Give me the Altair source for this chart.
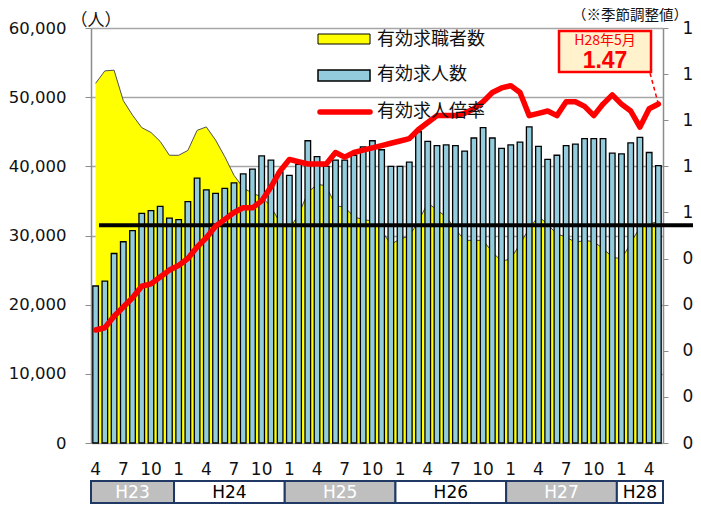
import altair as alt
import pandas as pd

# ---- data ----
MONTHS = [4, 5, 6, 7, 8, 9, 10, 11, 12,
          1, 2, 3, 4, 5, 6, 7, 8, 9, 10, 11, 12,
          1, 2, 3, 4, 5, 6, 7, 8, 9, 10, 11, 12,
          1, 2, 3, 4, 5, 6, 7, 8, 9, 10, 11, 12,
          1, 2, 3, 4, 5, 6, 7, 8, 9, 10, 11, 12,
          1, 2, 3, 4, 5]

SEEKERS = [52000, 53800, 53900, 49500, 47400, 45600, 44900, 43600, 41600,
           41600, 42300, 45200, 45700, 43800, 41400, 38700, 36900, 36100, 35600, 34200, 31800,
           31000, 33000, 36200, 37400, 37200, 34300, 34100, 32700, 32300, 32100, 30700, 28700,
           29500, 29900, 32100, 34700, 33700, 32700, 30900, 29300, 29300, 29300, 27600, 26300,
           26600, 28800, 31000, 32800, 31600, 30200, 29800, 29000, 29300, 29100, 28100, 26900,
           26600, 28900, 31200, 31700, 32000]

OPENINGS = [22700, 23400, 27400, 29100, 30700, 33200, 33600, 34200, 32500,
            32300, 34900, 38300, 36600, 36100, 36800, 37600, 38900, 39600, 41500, 40900, 39200,
            38700, 40300, 43700, 41400, 40000, 40900, 40900, 41600, 42800, 43700, 42400, 40000,
            40000, 40600, 45000, 43600, 43000, 43100, 43000, 42200, 44100, 45600, 44100, 42600,
            43100, 43500, 45700, 42900, 41000, 41600, 43000, 43200, 44000, 44000, 44000, 41900,
            41800, 43400, 44200, 42000, 40100]

RATIO = [0.49, 0.50, 0.55, 0.59, 0.63, 0.68, 0.69, 0.72, 0.75,
         0.77, 0.80, 0.85, 0.89, 0.94, 0.97, 1.00, 1.02, 1.02, 1.05, 1.11, 1.18,
         1.23, 1.22, 1.21, 1.21, 1.21, 1.26, 1.24, 1.26, 1.27, 1.28, 1.29, 1.30,
         1.31, 1.32, 1.36, 1.39, 1.42, 1.42, 1.42, 1.43, 1.45, 1.48, 1.52, 1.54,
         1.55, 1.52, 1.42, 1.43, 1.44, 1.42, 1.48, 1.48, 1.46, 1.42, 1.47, 1.51,
         1.47, 1.44, 1.37, 1.45, 1.47]

YEAR_LABELS = ["H23", "H24", "H25", "H26", "H27", "H28"]
YEAR_START = [0, 9, 21, 33, 45, 57]
YEAR_END = [9, 21, 33, 45, 57, 62]
YEAR_FILL = ["#BFBFBF", "#FFFFFF", "#BFBFBF", "#FFFFFF", "#BFBFBF", "#FFFFFF"]
YEAR_TEXT = ["#FFFFFF", "#000000", "#FFFFFF", "#000000", "#FFFFFF", "#000000"]

LEFT_TICKS = [0, 10000, 20000, 30000, 40000, 50000, 60000]
RIGHT_TICKS = [0, 0.2, 0.4, 0.6, 0.8, 1.0, 1.2, 1.4, 1.6, 1.8]
REF_LEVEL = [31500]   # heavy black reference line (persons scale)

SERIES_NAMES = ["有効求職者数", "有効求人数", "有効求人倍率"]
UNIT_LABEL = "（人）"
NOTE_LABEL = "（※季節調整値）"
ANNOT_LABEL = "H28年5月"

# ---- tables ----
n = len(MONTHS)
df = pd.DataFrame({
    "idx": [i + 0.5 for i in range(n)],
    "month": MONTHS,
    "seekers": SEEKERS,
    "openings": OPENINGS,
    "ratio": RATIO,
})
lab_df = df[df["month"].isin([1, 4, 7, 10])].copy()
lab_df["mlabel"] = lab_df["month"].astype(str)
last_df = df.tail(1).copy()
last_df["vlabel"] = last_df["ratio"].map(lambda v: f"{v:.2f}")
last_df["alabel"] = ANNOT_LABEL

years = pd.DataFrame({
    "start": YEAR_START, "end": YEAR_END,
    "mid": [(a + b) / 2 for a, b in zip(YEAR_START, YEAR_END)],
    "label": YEAR_LABELS, "fill": YEAR_FILL, "tcolor": YEAR_TEXT,
})
one = pd.DataFrame({"k": [0]})

W, H = 572, 415
FONT = "DejaVu Sans"
JP = "Noto Sans CJK JP"

xs = alt.Scale(domain=[0, n], nice=False, zero=False, padding=0)
x_axis = alt.Axis(values=list(range(n + 1)), labels=False, ticks=True, tickSize=5,
                  tickColor="#8C8C8C", domainColor="#7F7F7F", domainWidth=1.5,
                  grid=False, title=None, orient="bottom")


def yl():
    return alt.Scale(domain=[0, 60000], nice=False, zero=True)


def yr():
    return alt.Scale(domain=[0, 1.8], nice=False, zero=True)


left_axis = alt.Axis(orient="left", values=LEFT_TICKS, format=",d", labelFont=FONT, labelFontSize=16.5,
                     labelColor="#111111", labelPadding=19, tickSize=6, tickColor="#8C8C8C",
                     domainColor="#8C8C8C", domainWidth=1.5, grid=True, gridColor="#A6A6A6",
                     gridWidth=1.5, title=None)
right_axis = alt.Axis(orient="right", values=RIGHT_TICKS, format=".1~f", labelFont=FONT,
                      labelFontSize=17, labelColor="#111111", labelPadding=14, tickSize=5,
                      tickColor="#8C8C8C", domainColor="#8C8C8C", domainWidth=1.5,
                      grid=False, title=None)

base = alt.Chart(df)

area = base.mark_area(color="#FFFF00").encode(
    x=alt.X("idx:Q", scale=xs, axis=x_axis),
    y=alt.Y("seekers:Q", scale=yl(), axis=left_axis),
)
area_edge = base.mark_line(color="#505050", strokeWidth=1).encode(
    x=alt.X("idx:Q", scale=xs, axis=None),
    y=alt.Y("seekers:Q", scale=yl(), axis=None),
)
bars = base.mark_bar(size=5.6, fill="#93CDDD", stroke="#000000", strokeWidth=1.3).encode(
    x=alt.X("idx:Q", scale=xs, axis=None),
    y=alt.Y("openings:Q", scale=yl(), axis=None),
)
ref_rule = alt.Chart(pd.DataFrame({"v": REF_LEVEL})).mark_rule(color="#000000", strokeWidth=4).encode(
    y=alt.Y("v:Q", scale=yl(), axis=None),
    x=alt.value(8), x2=alt.value(602),
)
ratio_line = base.mark_line(color="#FF0000", strokeWidth=5.5, strokeJoin="round", strokeCap="round").encode(
    x=alt.X("idx:Q", scale=xs, axis=None),
    y=alt.Y("ratio:Q", scale=yr(), axis=right_axis),
)
dash = alt.Chart(last_df).mark_rule(color="#FF0000", strokeWidth=1.5, strokeDash=[4, 3]).encode(
    x=alt.X("idx:Q", scale=xs, axis=None),
    y=alt.Y("ratio:Q", scale=yr(), axis=None),
    x2=alt.value(559), y2=alt.value(45),
)

# month labels under the axis
month_text = alt.Chart(lab_df).mark_text(font=FONT, fontSize=17, color="#111111",
                                         align="center", baseline="middle").encode(
    x=alt.X("idx:Q", scale=xs, axis=None), y=alt.value(442), text="mlabel:N")

# year boxes
year_rect = alt.Chart(years).mark_rect(stroke="#1F3864", strokeWidth=2).encode(
    x=alt.X("start:Q", scale=xs, axis=None), x2="end:Q",
    y=alt.value(453), y2=alt.value(475),
    fill=alt.Fill("fill:N", scale=None),
)
year_text = alt.Chart(years).mark_text(font=FONT, fontSize=17, align="center", baseline="middle").encode(
    x=alt.X("mid:Q", scale=xs, axis=None), y=alt.value(465),
    text="label:N", color=alt.Color("tcolor:N", scale=None),
)

# legend
oc = alt.Chart(one)
leg_y = oc.mark_rect(fill="#FFFF00", stroke="#000000", strokeWidth=1).encode(
    x=alt.value(227), x2=alt.value(279), y=alt.value(6), y2=alt.value(16))
leg_b = oc.mark_rect(fill="#93CDDD", stroke="#000000", strokeWidth=1.5).encode(
    x=alt.value(227), x2=alt.value(279), y=alt.value(42), y2=alt.value(53))
leg_r = oc.mark_rule(color="#FF0000", strokeWidth=5.5, strokeCap="round").encode(
    x=alt.value(229), x2=alt.value(279), y=alt.value(84), y2=alt.value(84))
leg_texts = []
for name, ypos in zip(SERIES_NAMES, [12, 47, 84]):
    leg_texts.append(oc.mark_text(text=name, font=JP, fontSize=18, color="#111111",
                                  align="left", baseline="middle").encode(
        x=alt.value(286), y=alt.value(ypos)))

unit = oc.mark_text(text=UNIT_LABEL, font=JP, fontSize=17, color="#111111",
                    align="center", baseline="middle").encode(x=alt.value(5), y=alt.value(-7))
note = oc.mark_text(text=NOTE_LABEL, font=JP, fontSize=14.5, color="#111111",
                    align="center", baseline="middle").encode(x=alt.value(539), y=alt.value(-12.5))

box = oc.mark_rect(fill="#FFF2CC", stroke="#FF0000", strokeWidth=2.5).encode(
    x=alt.value(468), x2=alt.value(560), y=alt.value(3), y2=alt.value(44))
box_t1 = alt.Chart(last_df).mark_text(font=JP, fontSize=14, color="#FF0000", align="center",
                                      baseline="middle").encode(
    x=alt.value(514), y=alt.value(13), text="alabel:N")
box_t2 = alt.Chart(last_df).mark_text(font="Liberation Sans", fontSize=23, fontWeight="bold",
                                      color="#FF0000", align="center", baseline="middle").encode(
    x=alt.value(514), y=alt.value(33), text="vlabel:N")

layers = [area, area_edge, bars, ref_rule, ratio_line, dash, month_text, year_rect, year_text,
          leg_y, leg_b, leg_r] + leg_texts + [unit, note, box, box_t1, box_t2]

chart = alt.layer(*layers).resolve_scale(y="independent").properties(
    width=W, height=H,
    autosize=alt.AutoSizeParams(type="none"),
    padding={"left": 83, "top": 20, "right": 30, "bottom": 62},
    background="#FFFFFF",
).configure_view(stroke=None)

chart.save("out.html", embed_options={"renderer": "svg", "actions": False})
